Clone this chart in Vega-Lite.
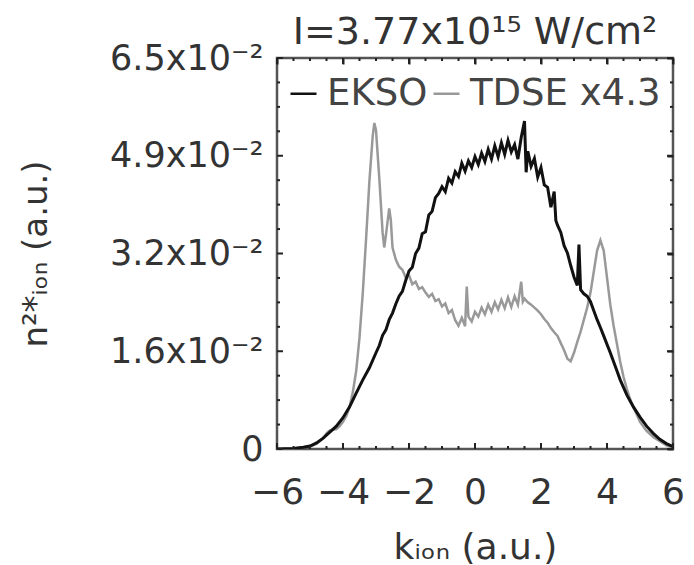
{
  "$schema": "https://vega.github.io/schema/vega-lite/v6.json",
  "autosize": {"type": "none"},
  "padding": {"left": 277, "top": 58, "right": 21, "bottom": 116},
  "width": 396,
  "height": 391,
  "background": "white",
  "config": {
    "view": {"stroke": "#555", "strokeWidth": 2.5},
    "font": "DejaVu Sans",
    "axis": {"grid": false, "domain": false, "labelColor": "#333", "titleColor": "#333", "labelFont": "DejaVu Sans", "titleFont": "DejaVu Sans", "titleFontWeight": "normal"}
  },
  "title": {"text": "I=3.77x10¹⁵ W/cm²", "fontSize": 38, "fontWeight": "normal", "color": "#333", "font": "DejaVu Sans", "offset": -11},
  "data": {"values": [
      {"v": -6, "axis": "x", "kind": "major"}, {"v": -4, "axis": "x", "kind": "major"}, {"v": -2, "axis": "x", "kind": "major"}, {"v": 0, "axis": "x", "kind": "major"}, {"v": 2, "axis": "x", "kind": "major"}, {"v": 4, "axis": "x", "kind": "major"}, {"v": 6, "axis": "x", "kind": "major"},
      {"v": -5.5, "axis": "x", "kind": "minor"}, {"v": -5, "axis": "x", "kind": "minor"}, {"v": -4.5, "axis": "x", "kind": "minor"}, {"v": -3.5, "axis": "x", "kind": "minor"}, {"v": -3, "axis": "x", "kind": "minor"}, {"v": -2.5, "axis": "x", "kind": "minor"}, {"v": -1.5, "axis": "x", "kind": "minor"}, {"v": -1, "axis": "x", "kind": "minor"}, {"v": -0.5, "axis": "x", "kind": "minor"}, {"v": 0.5, "axis": "x", "kind": "minor"}, {"v": 1, "axis": "x", "kind": "minor"}, {"v": 1.5, "axis": "x", "kind": "minor"}, {"v": 2.5, "axis": "x", "kind": "minor"}, {"v": 3, "axis": "x", "kind": "minor"}, {"v": 3.5, "axis": "x", "kind": "minor"}, {"v": 4.5, "axis": "x", "kind": "minor"}, {"v": 5, "axis": "x", "kind": "minor"}, {"v": 5.5, "axis": "x", "kind": "minor"},
      {"v": 0, "axis": "y", "kind": "major"}, {"v": 0.01625, "axis": "y", "kind": "major"}, {"v": 0.0325, "axis": "y", "kind": "major"}, {"v": 0.04875, "axis": "y", "kind": "major"}, {"v": 0.065, "axis": "y", "kind": "major"},
      {"v": 0.0040625, "axis": "y", "kind": "minor"}, {"v": 0.008125, "axis": "y", "kind": "minor"}, {"v": 0.0121875, "axis": "y", "kind": "minor"}, {"v": 0.0203125, "axis": "y", "kind": "minor"}, {"v": 0.024375, "axis": "y", "kind": "minor"}, {"v": 0.0284375, "axis": "y", "kind": "minor"}, {"v": 0.0365625, "axis": "y", "kind": "minor"}, {"v": 0.040625, "axis": "y", "kind": "minor"}, {"v": 0.0446875, "axis": "y", "kind": "minor"}, {"v": 0.0528125, "axis": "y", "kind": "minor"}, {"v": 0.056875, "axis": "y", "kind": "minor"}, {"v": 0.0609375, "axis": "y", "kind": "minor"},
    {"k": -6, "n": 0, "s": "EKSO"}, {"k": -5.5, "n": 0.0001, "s": "EKSO"}, {"k": -5.2, "n": 0.0003, "s": "EKSO"}, {"k": -5, "n": 0.0005, "s": "EKSO"}, {"k": -4.8, "n": 0.001, "s": "EKSO"}, {"k": -4.6, "n": 0.0018, "s": "EKSO"}, {"k": -4.4, "n": 0.0028, "s": "EKSO"}, {"k": -4.2, "n": 0.0038, "s": "EKSO"}, {"k": -4, "n": 0.0052, "s": "EKSO"}, {"k": -3.8, "n": 0.007, "s": "EKSO"}, {"k": -3.6, "n": 0.0093, "s": "EKSO"}, {"k": -3.4, "n": 0.0115, "s": "EKSO"}, {"k": -3.2, "n": 0.0135, "s": "EKSO"}, {"k": -3, "n": 0.016, "s": "EKSO"}, {"k": -2.9, "n": 0.0172, "s": "EKSO"}, {"k": -2.8, "n": 0.0189, "s": "EKSO"}, {"k": -2.7, "n": 0.0198, "s": "EKSO"}, {"k": -2.6, "n": 0.0215, "s": "EKSO"}, {"k": -2.5, "n": 0.0226, "s": "EKSO"}, {"k": -2.4, "n": 0.0241, "s": "EKSO"}, {"k": -2.3, "n": 0.0254, "s": "EKSO"}, {"k": -2.2, "n": 0.0262, "s": "EKSO"}, {"k": -2.1, "n": 0.028, "s": "EKSO"}, {"k": -2, "n": 0.0296, "s": "EKSO"}, {"k": -1.9, "n": 0.0302, "s": "EKSO"}, {"k": -1.8, "n": 0.0325, "s": "EKSO"}, {"k": -1.7, "n": 0.0334, "s": "EKSO"}, {"k": -1.6, "n": 0.0358, "s": "EKSO"}, {"k": -1.5, "n": 0.0361, "s": "EKSO"}, {"k": -1.4, "n": 0.0389, "s": "EKSO"}, {"k": -1.3, "n": 0.0395, "s": "EKSO"}, {"k": -1.2, "n": 0.0418, "s": "EKSO"}, {"k": -1.1, "n": 0.0425, "s": "EKSO"}, {"k": -1, "n": 0.0436, "s": "EKSO"}, {"k": -0.9, "n": 0.0428, "s": "EKSO"}, {"k": -0.8, "n": 0.045, "s": "EKSO"}, {"k": -0.7, "n": 0.0442, "s": "EKSO"}, {"k": -0.6, "n": 0.0461, "s": "EKSO"}, {"k": -0.5, "n": 0.0453, "s": "EKSO"}, {"k": -0.4, "n": 0.0475, "s": "EKSO"}, {"k": -0.3, "n": 0.0462, "s": "EKSO"}, {"k": -0.2, "n": 0.0479, "s": "EKSO"}, {"k": -0.1, "n": 0.0468, "s": "EKSO"}, {"k": 0, "n": 0.0486, "s": "EKSO"}, {"k": 0.1, "n": 0.0473, "s": "EKSO"}, {"k": 0.2, "n": 0.0492, "s": "EKSO"}, {"k": 0.3, "n": 0.0478, "s": "EKSO"}, {"k": 0.4, "n": 0.0498, "s": "EKSO"}, {"k": 0.5, "n": 0.0482, "s": "EKSO"}, {"k": 0.6, "n": 0.0504, "s": "EKSO"}, {"k": 0.7, "n": 0.0486, "s": "EKSO"}, {"k": 0.8, "n": 0.0509, "s": "EKSO"}, {"k": 0.9, "n": 0.049, "s": "EKSO"}, {"k": 1, "n": 0.0513, "s": "EKSO"}, {"k": 1.1, "n": 0.0494, "s": "EKSO"}, {"k": 1.2, "n": 0.0506, "s": "EKSO"}, {"k": 1.3, "n": 0.0482, "s": "EKSO"}, {"k": 1.4, "n": 0.0518, "s": "EKSO"}, {"k": 1.5, "n": 0.0545, "s": "EKSO"}, {"k": 1.55, "n": 0.046, "s": "EKSO"}, {"k": 1.6, "n": 0.0495, "s": "EKSO"}, {"k": 1.7, "n": 0.047, "s": "EKSO"}, {"k": 1.8, "n": 0.0483, "s": "EKSO"}, {"k": 1.9, "n": 0.0452, "s": "EKSO"}, {"k": 2, "n": 0.0468, "s": "EKSO"}, {"k": 2.1, "n": 0.0439, "s": "EKSO"}, {"k": 2.2, "n": 0.0435, "s": "EKSO"}, {"k": 2.3, "n": 0.0402, "s": "EKSO"}, {"k": 2.4, "n": 0.0428, "s": "EKSO"}, {"k": 2.45, "n": 0.038, "s": "EKSO"}, {"k": 2.5, "n": 0.0372, "s": "EKSO"}, {"k": 2.6, "n": 0.036, "s": "EKSO"}, {"k": 2.7, "n": 0.0338, "s": "EKSO"}, {"k": 2.8, "n": 0.0326, "s": "EKSO"}, {"k": 2.9, "n": 0.0305, "s": "EKSO"}, {"k": 3, "n": 0.0286, "s": "EKSO"}, {"k": 3.1, "n": 0.0272, "s": "EKSO"}, {"k": 3.15, "n": 0.034, "s": "EKSO"}, {"k": 3.2, "n": 0.0265, "s": "EKSO"}, {"k": 3.3, "n": 0.0258, "s": "EKSO"}, {"k": 3.4, "n": 0.0254, "s": "EKSO"}, {"k": 3.5, "n": 0.0245, "s": "EKSO"}, {"k": 3.6, "n": 0.023, "s": "EKSO"}, {"k": 3.7, "n": 0.0215, "s": "EKSO"}, {"k": 3.8, "n": 0.0202, "s": "EKSO"}, {"k": 3.9, "n": 0.0188, "s": "EKSO"}, {"k": 4, "n": 0.0174, "s": "EKSO"}, {"k": 4.1, "n": 0.016, "s": "EKSO"}, {"k": 4.2, "n": 0.0145, "s": "EKSO"}, {"k": 4.3, "n": 0.013, "s": "EKSO"}, {"k": 4.4, "n": 0.0115, "s": "EKSO"}, {"k": 4.6, "n": 0.009, "s": "EKSO"}, {"k": 4.8, "n": 0.007, "s": "EKSO"}, {"k": 5, "n": 0.0053, "s": "EKSO"}, {"k": 5.2, "n": 0.0038, "s": "EKSO"}, {"k": 5.4, "n": 0.0026, "s": "EKSO"}, {"k": 5.6, "n": 0.0016, "s": "EKSO"}, {"k": 5.8, "n": 0.0009, "s": "EKSO"}, {"k": 6, "n": 0.0004, "s": "EKSO"},
    {"k": -6, "n": 0, "s": "TDSE x4.3"}, {"k": -5.5, "n": 0.0001, "s": "TDSE x4.3"}, {"k": -5, "n": 0.0004, "s": "TDSE x4.3"}, {"k": -4.8, "n": 0.0009, "s": "TDSE x4.3"}, {"k": -4.6, "n": 0.0018, "s": "TDSE x4.3"}, {"k": -4.5, "n": 0.0026, "s": "TDSE x4.3"}, {"k": -4.4, "n": 0.0031, "s": "TDSE x4.3"}, {"k": -4.3, "n": 0.0032, "s": "TDSE x4.3"}, {"k": -4.2, "n": 0.0033, "s": "TDSE x4.3"}, {"k": -4.1, "n": 0.0038, "s": "TDSE x4.3"}, {"k": -4, "n": 0.0045, "s": "TDSE x4.3"}, {"k": -3.9, "n": 0.0055, "s": "TDSE x4.3"}, {"k": -3.8, "n": 0.007, "s": "TDSE x4.3"}, {"k": -3.7, "n": 0.0095, "s": "TDSE x4.3"}, {"k": -3.6, "n": 0.013, "s": "TDSE x4.3"}, {"k": -3.5, "n": 0.0185, "s": "TDSE x4.3"}, {"k": -3.4, "n": 0.026, "s": "TDSE x4.3"}, {"k": -3.3, "n": 0.035, "s": "TDSE x4.3"}, {"k": -3.2, "n": 0.0445, "s": "TDSE x4.3"}, {"k": -3.1, "n": 0.052, "s": "TDSE x4.3"}, {"k": -3.05, "n": 0.0542, "s": "TDSE x4.3"}, {"k": -3, "n": 0.053, "s": "TDSE x4.3"}, {"k": -2.9, "n": 0.045, "s": "TDSE x4.3"}, {"k": -2.8, "n": 0.036, "s": "TDSE x4.3"}, {"k": -2.75, "n": 0.0335, "s": "TDSE x4.3"}, {"k": -2.7, "n": 0.0355, "s": "TDSE x4.3"}, {"k": -2.6, "n": 0.04, "s": "TDSE x4.3"}, {"k": -2.55, "n": 0.038, "s": "TDSE x4.3"}, {"k": -2.5, "n": 0.0335, "s": "TDSE x4.3"}, {"k": -2.4, "n": 0.0315, "s": "TDSE x4.3"}, {"k": -2.3, "n": 0.0303, "s": "TDSE x4.3"}, {"k": -2.2, "n": 0.0298, "s": "TDSE x4.3"}, {"k": -2.1, "n": 0.0285, "s": "TDSE x4.3"}, {"k": -2, "n": 0.0289, "s": "TDSE x4.3"}, {"k": -1.9, "n": 0.0274, "s": "TDSE x4.3"}, {"k": -1.8, "n": 0.0278, "s": "TDSE x4.3"}, {"k": -1.7, "n": 0.0266, "s": "TDSE x4.3"}, {"k": -1.6, "n": 0.0269, "s": "TDSE x4.3"}, {"k": -1.5, "n": 0.026, "s": "TDSE x4.3"}, {"k": -1.4, "n": 0.0253, "s": "TDSE x4.3"}, {"k": -1.3, "n": 0.0258, "s": "TDSE x4.3"}, {"k": -1.2, "n": 0.0246, "s": "TDSE x4.3"}, {"k": -1.1, "n": 0.0249, "s": "TDSE x4.3"}, {"k": -1, "n": 0.0237, "s": "TDSE x4.3"}, {"k": -0.9, "n": 0.0242, "s": "TDSE x4.3"}, {"k": -0.8, "n": 0.0226, "s": "TDSE x4.3"}, {"k": -0.7, "n": 0.0231, "s": "TDSE x4.3"}, {"k": -0.6, "n": 0.0214, "s": "TDSE x4.3"}, {"k": -0.5, "n": 0.0205, "s": "TDSE x4.3"}, {"k": -0.4, "n": 0.0218, "s": "TDSE x4.3"}, {"k": -0.3, "n": 0.0204, "s": "TDSE x4.3"}, {"k": -0.25, "n": 0.027, "s": "TDSE x4.3"}, {"k": -0.2, "n": 0.022, "s": "TDSE x4.3"}, {"k": -0.1, "n": 0.0212, "s": "TDSE x4.3"}, {"k": 0, "n": 0.0228, "s": "TDSE x4.3"}, {"k": 0.1, "n": 0.022, "s": "TDSE x4.3"}, {"k": 0.2, "n": 0.0235, "s": "TDSE x4.3"}, {"k": 0.3, "n": 0.0224, "s": "TDSE x4.3"}, {"k": 0.4, "n": 0.024, "s": "TDSE x4.3"}, {"k": 0.5, "n": 0.0228, "s": "TDSE x4.3"}, {"k": 0.6, "n": 0.0244, "s": "TDSE x4.3"}, {"k": 0.7, "n": 0.0232, "s": "TDSE x4.3"}, {"k": 0.8, "n": 0.0248, "s": "TDSE x4.3"}, {"k": 0.9, "n": 0.0234, "s": "TDSE x4.3"}, {"k": 1, "n": 0.0252, "s": "TDSE x4.3"}, {"k": 1.1, "n": 0.0236, "s": "TDSE x4.3"}, {"k": 1.2, "n": 0.0254, "s": "TDSE x4.3"}, {"k": 1.3, "n": 0.024, "s": "TDSE x4.3"}, {"k": 1.4, "n": 0.0278, "s": "TDSE x4.3"}, {"k": 1.45, "n": 0.0245, "s": "TDSE x4.3"}, {"k": 1.5, "n": 0.025, "s": "TDSE x4.3"}, {"k": 1.6, "n": 0.0244, "s": "TDSE x4.3"}, {"k": 1.7, "n": 0.024, "s": "TDSE x4.3"}, {"k": 1.8, "n": 0.0235, "s": "TDSE x4.3"}, {"k": 1.9, "n": 0.023, "s": "TDSE x4.3"}, {"k": 2, "n": 0.0224, "s": "TDSE x4.3"}, {"k": 2.1, "n": 0.0216, "s": "TDSE x4.3"}, {"k": 2.2, "n": 0.021, "s": "TDSE x4.3"}, {"k": 2.3, "n": 0.0201, "s": "TDSE x4.3"}, {"k": 2.4, "n": 0.0194, "s": "TDSE x4.3"}, {"k": 2.5, "n": 0.0188, "s": "TDSE x4.3"}, {"k": 2.6, "n": 0.0176, "s": "TDSE x4.3"}, {"k": 2.7, "n": 0.0164, "s": "TDSE x4.3"}, {"k": 2.8, "n": 0.015, "s": "TDSE x4.3"}, {"k": 2.9, "n": 0.0146, "s": "TDSE x4.3"}, {"k": 3, "n": 0.016, "s": "TDSE x4.3"}, {"k": 3.1, "n": 0.0178, "s": "TDSE x4.3"}, {"k": 3.2, "n": 0.0195, "s": "TDSE x4.3"}, {"k": 3.3, "n": 0.0215, "s": "TDSE x4.3"}, {"k": 3.4, "n": 0.0235, "s": "TDSE x4.3"}, {"k": 3.5, "n": 0.026, "s": "TDSE x4.3"}, {"k": 3.6, "n": 0.0295, "s": "TDSE x4.3"}, {"k": 3.7, "n": 0.033, "s": "TDSE x4.3"}, {"k": 3.8, "n": 0.0347, "s": "TDSE x4.3"}, {"k": 3.9, "n": 0.033, "s": "TDSE x4.3"}, {"k": 4, "n": 0.0285, "s": "TDSE x4.3"}, {"k": 4.1, "n": 0.024, "s": "TDSE x4.3"}, {"k": 4.2, "n": 0.0205, "s": "TDSE x4.3"}, {"k": 4.3, "n": 0.0175, "s": "TDSE x4.3"}, {"k": 4.4, "n": 0.0145, "s": "TDSE x4.3"}, {"k": 4.5, "n": 0.012, "s": "TDSE x4.3"}, {"k": 4.6, "n": 0.01, "s": "TDSE x4.3"}, {"k": 4.7, "n": 0.0083, "s": "TDSE x4.3"}, {"k": 4.8, "n": 0.007, "s": "TDSE x4.3"}, {"k": 5, "n": 0.0045, "s": "TDSE x4.3"}, {"k": 5.2, "n": 0.003, "s": "TDSE x4.3"}, {"k": 5.4, "n": 0.002, "s": "TDSE x4.3"}, {"k": 5.6, "n": 0.0013, "s": "TDSE x4.3"}, {"k": 5.8, "n": 0.0006, "s": "TDSE x4.3"}, {"k": 6, "n": 0.0002, "s": "TDSE x4.3"}
  ]},
  "resolve": {"axis": {"x": "independent", "y": "independent"}},
  "layer": [
    {
      "transform": [{"filter": "datum.s == 'TDSE x4.3'"}],
      "mark": {"type": "line", "strokeWidth": 2.5, "clip": true},
      "encoding": {
        "x": {"field": "k", "type": "quantitative", "scale": {"domain": [-6, 6], "nice": false, "zero": false},
          "axis": {"orient": "bottom", "values": [-6, -4, -2, 0, 2, 4, 6], "ticks": false, "labelFontSize": 36, "labelPadding": 26, "title": "kᵢₒₙ (a.u.)", "titleFontSize": 36, "titlePadding": 20, "labelFlush": false}},
        "y": {"field": "n", "type": "quantitative", "scale": {"domain": [0, 0.065], "nice": false},
          "axis": {"orient": "left", "values": [0, 0.01625, 0.0325, 0.04875, 0.065], "ticks": false, "labelFontSize": 35, "labelPadding": 14, "labelExpr": "datum.value < 0.001 ? '0' : datum.value < 0.02 ? '1.6x10⁻²' : datum.value < 0.04 ? '3.2x10⁻²' : datum.value < 0.055 ? '4.9x10⁻²' : '6.5x10⁻²'", "labelFlush": false, "title": "n²*ᵢₒₙ (a.u.)", "titleFontSize": 34, "titlePadding": 56}},
        "color": {"field": "s", "type": "nominal", "scale": {"domain": ["EKSO", "TDSE x4.3"], "range": ["#111111", "#999999"]},
          "legend": {"orient": "none", "legendX": 8, "legendY": 17, "direction": "horizontal", "title": null, "symbolType": "stroke", "symbolSize": 676, "symbolStrokeWidth": 2.5, "labelFontSize": 37, "labelColor": "#444", "labelFont": "DejaVu Sans", "labelLimit": 400, "labelOffset": 5, "columnPadding": 0, "padding": 0}}
      }
    },
    {
      "transform": [{"filter": "datum.s == 'EKSO'"}],
      "mark": {"type": "line", "strokeWidth": 3, "clip": true},
      "encoding": {
        "x": {"field": "k", "type": "quantitative", "axis": {"orient": "top", "values": [-6, -4, -2, 0, 2, 4, 6], "tickSize": 6, "tickColor": "#222", "tickWidth": 2, "offset": -6, "labels": false, "title": null}},
        "y": {"field": "n", "type": "quantitative", "axis": {"orient": "right", "values": [0, 0.01625, 0.0325, 0.04875, 0.065], "tickSize": 6, "tickColor": "#222", "tickWidth": 2, "offset": -6, "labels": false, "title": null}},
        "color": {"field": "s", "type": "nominal"}
      }
    },
    {
      "transform": [{"filter": "datum.axis == 'x'"}],
      "mark": {"type": "point", "shape": "M0,0V-1", "filled": false, "strokeWidth": 2, "color": "#222", "opacity": 1},
      "encoding": {
        "x": {"field": "v", "type": "quantitative", "axis": null},
        "y": {"datum": 0, "axis": null},
        "size": {"field": "kind", "type": "nominal", "scale": {"domain": ["major", "minor"], "range": [144, 36]}, "legend": null}
      }
    },
    {
      "transform": [{"filter": "datum.axis == 'x'"}],
      "mark": {"type": "point", "shape": "M0,0V1", "filled": false, "strokeWidth": 2, "color": "#222", "opacity": 1},
      "encoding": {
        "x": {"field": "v", "type": "quantitative", "axis": null},
        "y": {"datum": 0.065, "axis": null},
        "size": {"field": "kind", "type": "nominal", "legend": null}
      }
    },
    {
      "transform": [{"filter": "datum.axis == 'y'"}],
      "mark": {"type": "point", "shape": "M0,0H1", "filled": false, "strokeWidth": 2, "color": "#222", "opacity": 1},
      "encoding": {
        "y": {"field": "v", "type": "quantitative", "axis": null},
        "x": {"datum": -6, "axis": null},
        "size": {"field": "kind", "type": "nominal", "legend": null}
      }
    },
    {
      "transform": [{"filter": "datum.axis == 'y'"}],
      "mark": {"type": "point", "shape": "M0,0H-1", "filled": false, "strokeWidth": 2, "color": "#222", "opacity": 1},
      "encoding": {
        "y": {"field": "v", "type": "quantitative", "axis": null},
        "x": {"datum": 6, "axis": null},
        "size": {"field": "kind", "type": "nominal", "legend": null}
      }
    }
  ]
}
